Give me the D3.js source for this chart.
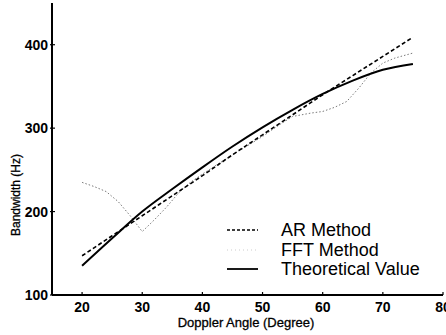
<!DOCTYPE html>
<html><head><meta charset="utf-8">
<script src="https://cdn.jsdelivr.net/npm/d3@7"></script>
<style>body{margin:0;background:#fff}svg{display:block}text{font-family:"Liberation Sans",Arial,sans-serif;fill:#000}</style>
</head><body><svg id="c" width="446" height="335"></svg>
<script>
const xTicks = [20, 30, 40, 50, 60, 70, 80];
const yTicks = [100, 200, 300, 400];
const theoDeg = [20, 25, 30, 35, 40, 45, 50, 55, 60, 65, 70, 75];
const theoVal = [135, 168, 200, 227, 253, 278, 301, 322, 341, 357, 370, 377];
const arDeg = [20, 25, 30, 35, 40, 45, 50, 55, 60, 65, 70, 75];
const arVal = [147, 171, 195, 219, 243, 268, 292, 316, 340, 363, 386, 409];
const fftDeg = [20, 22, 24, 26, 28, 30, 32, 34, 36, 38, 40, 45, 50, 53, 55, 58, 60, 62, 64, 66, 68, 70, 72, 75];
const fftVal = [235, 230, 224, 212, 195, 176, 190, 205, 222, 235, 245, 268, 290, 305, 314, 318, 320, 325, 332, 348, 366, 378, 384, 390];
const legendLabels = ["AR Method", "FFT Method", "Theoretical Value"];

const svg = d3.select("#c");
const x = d3.scaleLinear().domain([15, 80]).range([52, 443]);
const y = d3.scaleLinear().domain([100, 450]).range([295, 3]);

// axes
svg.append("line").attr("x1", x(15)).attr("x2", x(80)).attr("y1", y(100)).attr("y2", y(100)).attr("stroke", "#000").attr("stroke-width", 2);
svg.append("line").attr("x1", x(15)).attr("x2", x(15)).attr("y1", y(100)).attr("y2", y(450)).attr("stroke", "#000").attr("stroke-width", 2);

const gx = svg.append("g");
xTicks.forEach(t => {
  gx.append("line").attr("x1", x(t)).attr("x2", x(t)).attr("y1", y(100)).attr("y2", y(100) - 3).attr("stroke", "#000").attr("stroke-width", 1.2);
  gx.append("text").attr("x", x(t)).attr("y", 312).attr("text-anchor", "middle").attr("font-size", 14).attr("font-weight", "bold").text(t);
});
const gy = svg.append("g");
yTicks.forEach(t => {
  gy.append("line").attr("x1", x(15) - 2).attr("x2", x(15) + 3).attr("y1", y(t)).attr("y2", y(t)).attr("stroke", "#000").attr("stroke-width", 1.2);
  gy.append("text").attr("x", 48).attr("y", y(t) + 5).attr("text-anchor", "end").attr("font-size", 14).attr("font-weight", "bold").text(t);
});

svg.append("text").attr("x", 246).attr("y", 327).attr("text-anchor", "middle").attr("font-size", 13)
  .attr("stroke", "#000").attr("stroke-width", 0.3).text("Doppler Angle (Degree)");
svg.append("text").attr("transform", "translate(20,195) rotate(-90)").attr("text-anchor", "middle").attr("font-size", 12)
  .attr("stroke", "#000").attr("stroke-width", 0.3).text("Bandwidth (Hz)");

const line = d3.line().x(d => x(d[0])).y(d => y(d[1])).curve(d3.curveMonotoneX);
const fftLine = d3.line().x(d => x(d[0])).y(d => y(d[1])).curve(d3.curveLinear);

svg.append("path").datum(fftDeg.map((d, i) => [d, fftVal[i]])).attr("d", fftLine)
  .attr("fill", "none").attr("stroke", "#7a7a7a").attr("stroke-width", 1).attr("stroke-dasharray", "1.5,2");
svg.append("path").datum(arDeg.map((d, i) => [d, arVal[i]])).attr("d", line)
  .attr("fill", "none").attr("stroke", "#000").attr("stroke-width", 1.6).attr("stroke-dasharray", "4,2.5");
svg.append("path").datum(theoDeg.map((d, i) => [d, theoVal[i]])).attr("d", line)
  .attr("fill", "none").attr("stroke", "#000").attr("stroke-width", 2);

// legend
const lg = svg.append("g");
const rows = [236, 256, 275];
const styles = [{c: "#000", w: 1.4, da: "3,2"}, {c: "#ccc", w: 1, da: "1,3"}, {c: "#000", w: 1.8, da: null}];
legendLabels.forEach((l, i) => {
  const s = styles[i];
  const ln = lg.append("line").attr("x1", 227).attr("x2", 258).attr("y1", rows[i] - 6).attr("y2", rows[i] - 6).attr("stroke", s.c).attr("stroke-width", s.w);
  if (s.da) ln.attr("stroke-dasharray", s.da);
  lg.append("text").attr("x", 281).attr("y", rows[i]).attr("font-size", 18).text(l);
});
</script></body></html>
